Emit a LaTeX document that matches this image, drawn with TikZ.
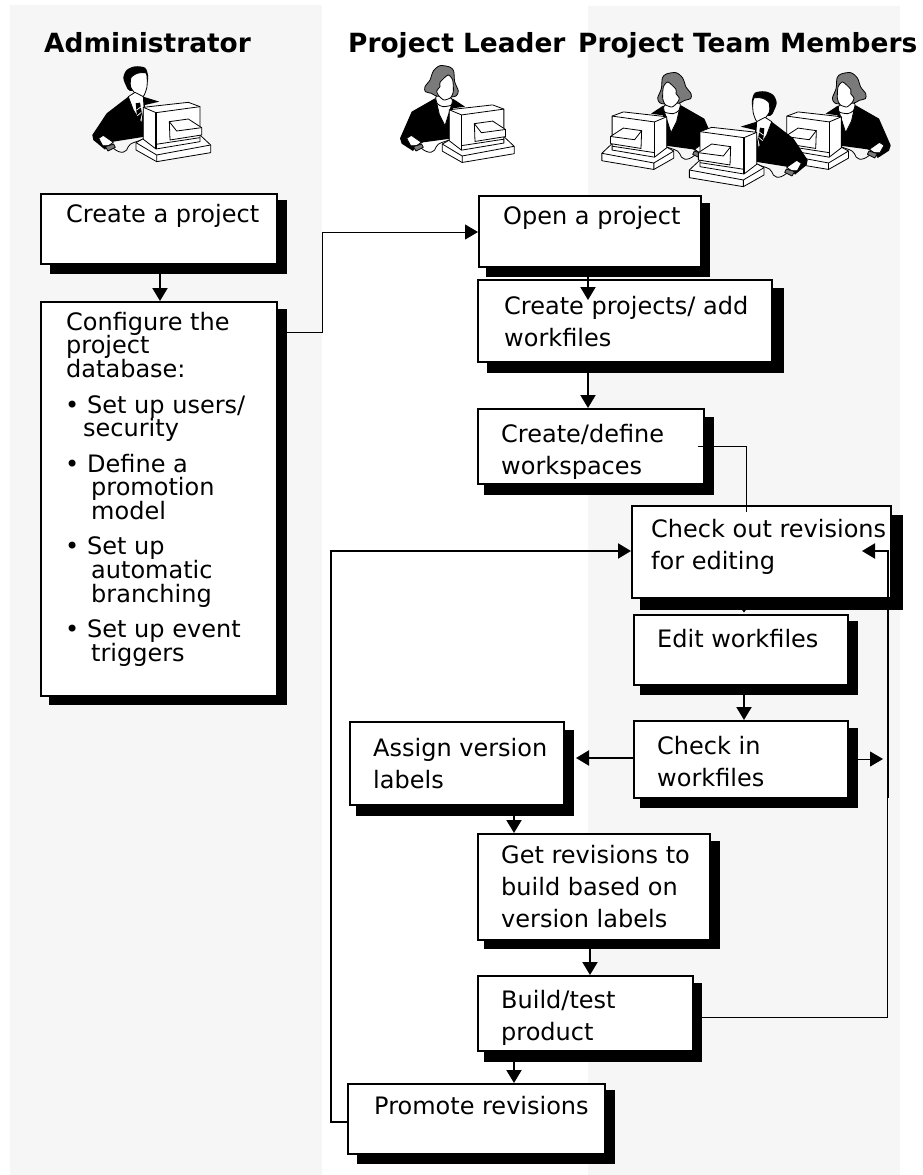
\documentclass[tikz,border=0pt]{standalone}
\usepackage{fontspec}
\setmainfont{DejaVu Sans}
\usetikzlibrary{arrows.meta,fit,calc}
\definecolor{panel}{HTML}{F6F6F6}
\definecolor{hairgrey}{HTML}{7A7A7A}
\tikzset{
  panelbg/.style={fill=panel,draw=none,inner sep=0pt},
  flowbox/.style={draw=black,fill=white,line width=2pt,inner sep=-1pt,rectangle},
  shadowbox/.style={fill=black,draw=none,inner sep=0pt,rectangle},
  boxtext/.style={anchor=north west,inner sep=0pt,align=left,font=\fontsize{24}{32}\selectfont},
  tighttext/.style={anchor=north west,inner sep=0pt,align=left,font=\fontsize{24}{23.7}\selectfont},
  titletext/.style={anchor=base west,inner sep=0pt,font=\fontsize{26.4}{30}\selectfont\bfseries},
  thinline/.style={line width=1pt,draw=black},
  thickline/.style={line width=2pt,draw=black},
  tiphead/.style={-{Triangle[length=13pt,width=15pt]}},
  iconline/.style={line width=0.8pt,draw=black,line join=round},
}
\newcommand{\fl}{\rule{0pt}{20pt}}
\newcommand{\iconmonitor}{%
  \draw[iconline,fill=white] (168,263)--(192,250)--(360,240)--(392,270)--(392,293)--(230,320)--(168,285)--cycle;
  \draw[iconline] (168,263)--(230,300)--(392,270) (230,300)--(230,320);
  \draw[iconline,fill=white] (190,157)--(325,142)--(360,155)--(360,260)--(228,282)--(190,253)--cycle;
  \draw[iconline] (190,157)--(228,173)--(360,155);
  \draw[line width=1.1pt] (228,173)--(228,282);
  \draw[iconline] (228,268)--(360,248);
  \draw[iconline,fill=white] (268,200)--(325,192)--(365,218)--(365,240)--(270,255)--cycle;
  \draw[iconline] (268,200)--(290,228)--(365,218);
}
\newcommand{\iconhand}{%
  \draw[iconline] (100,280) .. controls (125,300) and (140,292) .. (145,275) .. controls (150,262) and (170,262) .. (190,252);
  \draw[iconline,fill=white] (56,250)--(70,241)--(100,262)--(86,272)--(68,272)--cycle;
  \draw[iconline,fill=hairgrey] (76,275)--(101,267)--(106,277)--(84,288)--cycle;
}
\newcommand{\iconman}{%
  \fill[black] (145,125)--(80,175)--(37,240)--(40,255)--(75,284)--(86,268)--(100,260)--(195,245)--(195,150)--(238,140)--(180,122)--cycle;
  \iconhand
  \fill[black] plot[smooth cycle,tension=0.5] coordinates {(130,68) (140,45) (165,34) (195,38) (204,60) (203,80) (190,100) (150,108) (138,92)};
  \draw[iconline,fill=white] plot[smooth cycle,tension=0.4] coordinates {(153,68) (172,55) (199,55) (201,95) (190,124) (170,120) (152,96)};
  \draw[iconline,fill=white] (145,125)--(165,112)--(190,125)--(192,155)--(185,205)--(160,165)--cycle;
  \fill[black] (167,145)--(180,143)--(186,175)--(178,207)--(170,175)--cycle;
  \draw[white,line width=0.7pt] (170,165)--(184,155) (172,182)--(184,172);
  \iconmonitor
}
\newcommand{\iconwoman}{%
  \fill[black] (141,130)--(71,170)--(36,250)--(41,266)--(75,288)--(88,270)--(106,262)--(195,250)--(195,160)--(231,155)--(196,132)--cycle;
  \iconhand
  \draw[iconline,fill=hairgrey] plot[smooth cycle,tension=0.5] coordinates {(126,75) (136,48) (156,32) (185,36) (197,48) (200,80) (211,108) (205,122) (190,126) (150,125) (130,115) (112,110) (111,95)};
  \draw[iconline,fill=white] (146,143)--(190,152)--(171,212)--(154,178)--cycle;
  \draw[iconline,fill=white] plot[smooth cycle,tension=0.4] coordinates {(145,124) (190,130) (190,150) (165,155) (148,146)};
  \draw[iconline,fill=white] plot[smooth cycle,tension=0.4] coordinates {(156,82) (180,60) (194,75) (196,110) (188,128) (168,135) (152,122) (146,108) (156,95)};
  \begin{scope}[shift={(1,12)},xscale=0.963,yscale=0.97]\iconmonitor\end{scope}
}
\begin{document}
\begin{tikzpicture}[x=1pt,y=-1pt]
\useasboundingbox (0,0) rectangle (923,1175);
\fill[white] (0,0) rectangle (923,1175);
\node[panelbg,fit={(10,5)(322,1175)}] (leftpanel) {};
\node[panelbg,fit={(588,6)(900,1175)}] (rightpanel) {};

% titles
\node[titletext] (t1) at (44,52) {Administrator};
\node[titletext] (t2) at (348,52) {Project Leader};
\node[titletext] (t3) at (578,52) {Project Team Members};

% icons
\begin{scope}[shift={(80,55)},x=0.3333pt,y=-0.3333pt]\iconman\end{scope}
\begin{scope}[shift={(388,55)},x=0.3333pt,y=-0.3333pt]\iconwoman\end{scope}
\begin{scope}[shift={(728,62)},x=-0.3333pt,y=-0.3333pt]\iconwoman\end{scope}
\begin{scope}[shift={(902.7,62)},x=-0.3333pt,y=-0.3333pt]\iconwoman\end{scope}
\begin{scope}[shift={(820,80)},x=-0.3333pt,y=-0.3333pt]\iconman\end{scope}

% boxes: shadow then box
\node[shadowbox,fit={(50,200)(287,274)}] (createS) {};
\node[flowbox,fit={(40,193)(278,265)}] (create) {};
\node[shadowbox,fit={(49,309)(287,705)}] (configS) {};
\node[flowbox,fit={(40,301)(278,697)}] (config) {};
\node[shadowbox,fit={(486,203)(710,277)}] (openS) {};
\node[flowbox,fit={(478,195)(702,268)}] (open) {};
\node[shadowbox,fit={(487,288)(784,373)}] (addS) {};
\node[flowbox,fit={(477,279)(773,363)}] (add) {};
\node[shadowbox,fit={(484,417)(714,495)}] (wsS) {};
\node[flowbox,fit={(477,408)(705,485)}] (ws) {};
\node[shadowbox,fit={(640,515)(903,610)}] (outS) {};
\node[flowbox,fit={(631,505)(892,599)}] (out) {};
\node[shadowbox,fit={(640,621)(858,695)}] (editS) {};
\node[flowbox,fit={(633,614)(849,686)}] (edit) {};
\node[shadowbox,fit={(640,728)(858,808)}] (inS) {};
\node[flowbox,fit={(633,720)(849,799)}] (in1) {};
\node[shadowbox,fit={(356,730)(574,816)}] (labS) {};
\node[flowbox,fit={(349,721)(565,806)}] (lab) {};
\node[shadowbox,fit={(484,841)(720,949)}] (getS) {};
\node[flowbox,fit={(477,833)(711,941)}] (get) {};
\node[shadowbox,fit={(484,983)(702,1062)}] (buildS) {};
\node[flowbox,fit={(477,975)(694,1052)}] (build) {};
\node[shadowbox,fit={(357,1090)(615,1164)}] (promS) {};
\node[flowbox,fit={(347,1083)(606,1155)}] (prom) {};

% texts
\node[boxtext] (createT) at (66,202) {\fl Create a project};
\node[tighttext] (configT) at (65,310) {\fl\hspace*{1pt}Configure the\\
 \hspace*{1pt}project\\
 \hspace*{1pt}database:\\[11.7pt]
 \makebox[22pt][l]{•}Set up users/\\
 \hspace*{18pt}security\\[11.7pt]
 \makebox[22pt][l]{•}Define a\\
 \hspace*{26pt}promotion\\
 \hspace*{26pt}model\\[11.7pt]
 \makebox[22pt][l]{•}Set up\\
 \hspace*{26pt}automatic\\
 \hspace*{26pt}branching\\[11.7pt]
 \makebox[22pt][l]{•}Set up event\\
 \hspace*{26pt}triggers};
\node[boxtext] (openT) at (503,204) {\fl Open a project};
\node[boxtext] (addT) at (504,294) {\fl Create projects/ add\\workfiles};
\node[boxtext] (wsT) at (501,422) {\fl Create/define\\workspaces};
\node[boxtext] (outT) at (651,517) {\fl Check out revisions\\for editing};
\node[boxtext] (editT) at (657,627) {\fl Edit workfiles};
\node[boxtext] (inT) at (657,734) {\fl Check in\\workfiles};
\node[boxtext] (labT) at (373,736) {\fl Assign version\\labels};
\node[boxtext] (getT) at (501,843) {\fl Get revisions to\\build based on\\version labels};
\node[boxtext] (buildT) at (501,988) {\fl Build/test\\product};
\node[boxtext] (promT) at (374,1094) {\fl Promote revisions};

% connectors
\draw[thickline,tiphead] ([xshift=1pt]createS.south -| create.south) -- ([xshift=1pt]config.north);
\draw[thinline,tiphead] (config.east |- 0,332) -- (322,332) -- (322,232) -- (open.west |- 0,232);
\draw[thickline,tiphead] (openS.south -| 588,0) -- (588,300);
\draw[thickline,tiphead] (addS.south -| 588,0) -- (ws.north -| 588,0);
\draw[thinline] (698,446) -- (746,446) -- (746,512);
\coordinate (outTip) at (744,612.5);
\draw[line width=1pt,-{Triangle[length=2.5pt,width=3.5pt]}] (outS.south -| outTip) -- (outTip);
\draw[thickline,tiphead] (editS.south -| 744,0) -- (in1.north -| 744,0);
\coordinate (inTip) at (883,759);
\draw[thinline,tiphead] (inS.east |- inTip) -- (inTip);
\draw[thickline,tiphead] (in1.west |- 0,758) -- (576,758);
\draw[thickline,tiphead] (labS.south -| 514,0) -- (get.north -| 514,0);
\draw[thickline,tiphead] (getS.south -| 590,0) -- (build.north -| 590,0);
\draw[thickline,tiphead] (buildS.south -| 514,0) -- (prom.north -| 514,0);
\draw[thinline] (buildS.east |- 0,1017) -- (887.5,1017) -- (887.5,798);
\draw[thickline,tiphead] (887.5,798) -- (887.5,551) -- (862,551);
\draw[thickline,tiphead] (prom.west |- 0,1122) -- (331,1122) -- (331,551) -- (out.west |- 0,551);
\end{tikzpicture}
\end{document}
